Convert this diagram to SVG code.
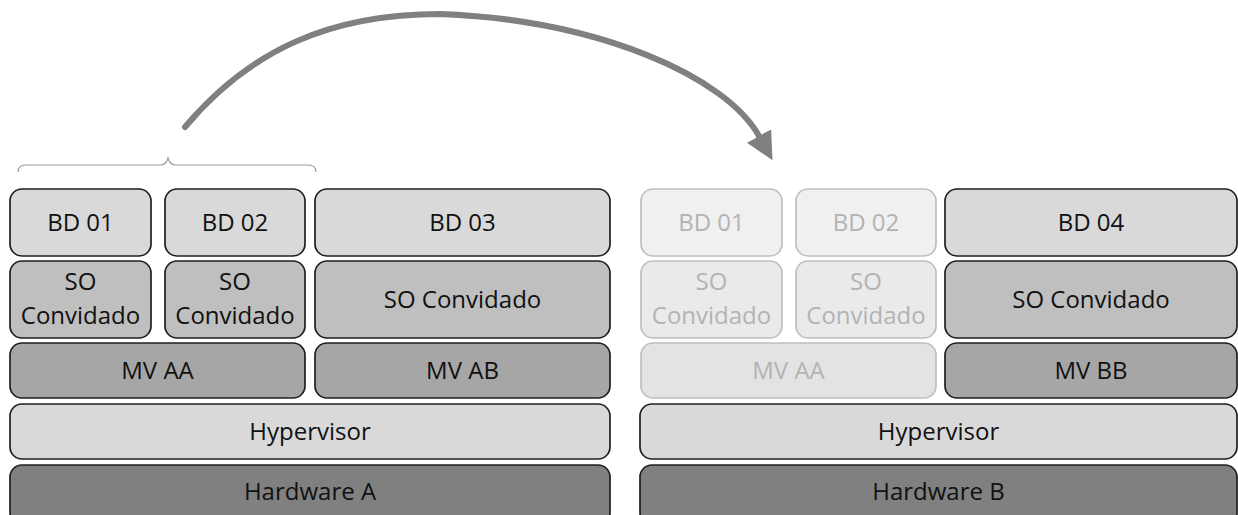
<svg xmlns="http://www.w3.org/2000/svg" width="1238" height="515" viewBox="0 0 1238 515">
<style>
rect{stroke:#1f1f1f;stroke-width:1.7}
text{font-family:"Open Sans","Noto Sans",sans-serif;font-size:24px;text-anchor:middle;fill:#111}
.bd{fill:#d9d9d9}
.so{fill:#bfbfbf}
.mv{fill:#a6a6a6}
.hy{fill:#d9d9d9}
.hw{fill:#808080}
.f rect{stroke:#bfbfbf}
.f text{fill:#b3b3b3}
.fbd{fill:#f0f0f0}
.fso{fill:#eaeaea}
.fmv{fill:#e3e3e3}
</style>
<defs>
<marker id="ah" markerUnits="userSpaceOnUse" markerWidth="30" markerHeight="30" refX="0" refY="12" orient="auto" viewBox="0 0 26 24">
<path d="M0,0 L24,12 L0,24 z" fill="#808080"/>
</marker>
</defs>
<g id="connectors">
<path d="M185,127 C250,50 330,14 440,14 C600,20 726,77 759,136" fill="none" stroke="#808080" stroke-width="6" stroke-linecap="round" marker-end="url(#ah)"/>
<path d="M18,172 Q18,165 26,165 L160,165 Q166,165 168,158 Q170,165 176,165 L308,165 Q316,165 316,172" fill="none" stroke="#9a9a9a" stroke-width="1.2"/>
</g>
<g id="bd01a"><rect class="bd" x="10" y="189" width="141" height="67" rx="12"/><text x="80.5" y="231">BD 01</text></g>
<g id="bd02a"><rect class="bd" x="165" y="189" width="140" height="67" rx="12"/><text x="235" y="231">BD 02</text></g>
<g id="bd03"><rect class="bd" x="315" y="189" width="295" height="67" rx="12"/><text x="462.5" y="231">BD 03</text></g>
<g id="so01a"><rect class="so" x="10" y="261" width="141" height="77" rx="12"/><text x="80.5" y="290">SO</text><text x="80.5" y="324">Convidado</text></g>
<g id="so02a"><rect class="so" x="165" y="261" width="140" height="77" rx="12"/><text x="235" y="290">SO</text><text x="235" y="324">Convidado</text></g>
<g id="so03"><rect class="so" x="315" y="261" width="295" height="77" rx="12"/><text x="462.5" y="308">SO Convidado</text></g>
<g id="mvaa"><rect class="mv" x="10" y="343" width="295" height="55" rx="12"/><text x="157.5" y="379">MV AA</text></g>
<g id="mvab"><rect class="mv" x="315" y="343" width="295" height="55" rx="12"/><text x="462.5" y="379">MV AB</text></g>
<g id="hypa"><rect class="hy" x="10" y="404" width="600" height="55" rx="12"/><text x="310" y="440">Hypervisor</text></g>
<g id="hwa"><rect class="hw" x="10" y="465" width="600" height="60" rx="12"/><text x="310" y="500">Hardware A</text></g>
<g id="bd01b" class="f"><rect class="fbd" x="641" y="189" width="141" height="67" rx="12"/><text x="711.5" y="231">BD 01</text></g>
<g id="bd02b" class="f"><rect class="fbd" x="796" y="189" width="140" height="67" rx="12"/><text x="866" y="231">BD 02</text></g>
<g id="bd04"><rect class="bd" x="945" y="189" width="292" height="67" rx="12"/><text x="1091" y="231">BD 04</text></g>
<g id="so01b" class="f"><rect class="fso" x="641" y="261" width="141" height="77" rx="12"/><text x="711.5" y="290">SO</text><text x="711.5" y="324">Convidado</text></g>
<g id="so02b" class="f"><rect class="fso" x="796" y="261" width="140" height="77" rx="12"/><text x="866" y="290">SO</text><text x="866" y="324">Convidado</text></g>
<g id="so04"><rect class="so" x="945" y="261" width="292" height="77" rx="12"/><text x="1091" y="308">SO Convidado</text></g>
<g id="mvaab" class="f"><rect class="fmv" x="641" y="343" width="295" height="55" rx="12"/><text x="788.5" y="379">MV AA</text></g>
<g id="mvbb"><rect class="mv" x="945" y="343" width="292" height="55" rx="12"/><text x="1091" y="379">MV BB</text></g>
<g id="hypb"><rect class="hy" x="640" y="404" width="597" height="55" rx="12"/><text x="938.5" y="440">Hypervisor</text></g>
<g id="hwb"><rect class="hw" x="640" y="465" width="597" height="60" rx="12"/><text x="938.5" y="500">Hardware B</text></g>
</svg>
